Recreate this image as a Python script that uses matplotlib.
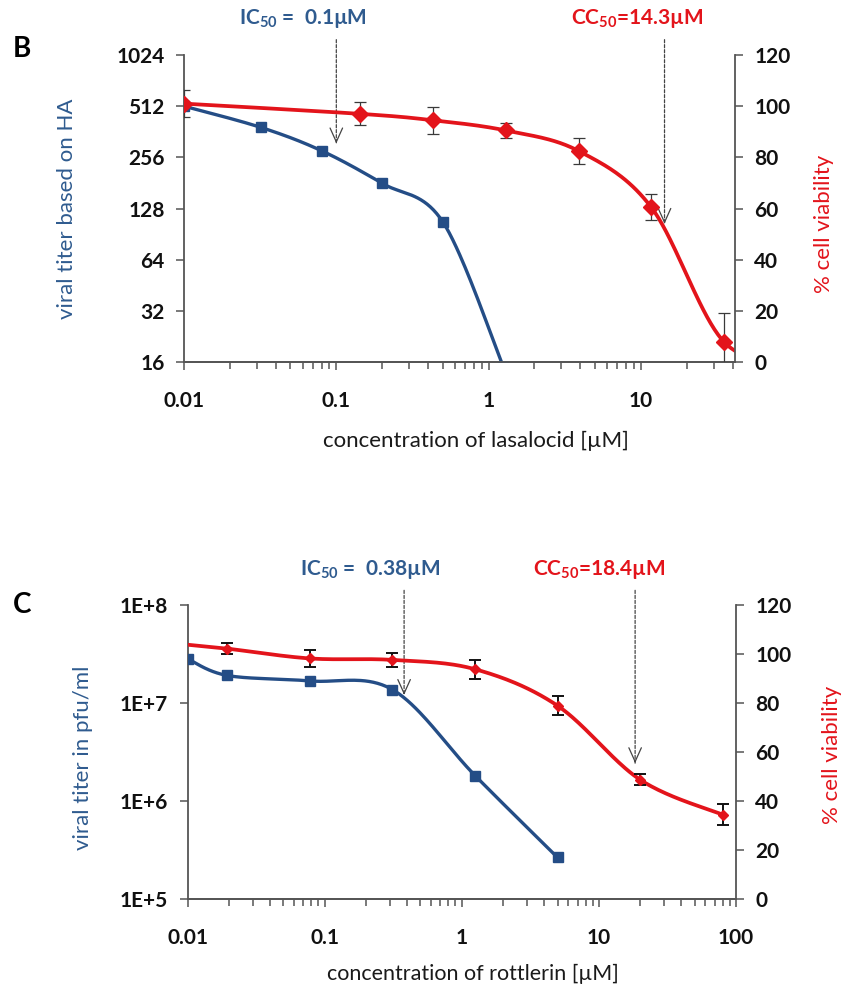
import numpy as np
import matplotlib
matplotlib.use('Agg')
import matplotlib.pyplot as plt
from matplotlib.ticker import FixedLocator, NullFormatter

plt.rcParams['font.family'] = ['Lato', 'DejaVu Sans']
plt.rcParams['mathtext.fontset'] = 'custom'
plt.rcParams['mathtext.rm'] = 'Lato'
plt.rcParams['mathtext.bf'] = 'Lato:bold'
plt.rcParams['mathtext.default'] = 'regular'

BLUE = '#244D86'
BLUE_TEXT = '#2F5B8F'
RED = '#E3141B'
AXIS = '#555555'
ARROW = '#444444'

# Panel B: lasalocid
las_virus_conc = [0.01, 0.032, 0.08, 0.2, 0.5, 1.25]
las_virus_titer = [512, 384, 280, 180, 107, 15]
las_cell_conc = [0.01, 0.144, 0.43, 1.3, 3.9, 11.7, 35, 105]
las_cell_viab = [101, 97, 94.5, 90.5, 82.5, 60.5, 8, 0]
las_cell_err = [5.4, 4.5, 5.2, 2.9, 5.0, 5.0, 11.0, 0]
las_ic50 = 0.1
las_cc50 = 14.3

# Panel C: rottlerin
rot_virus_conc = [0.01, 0.0195, 0.078, 0.3125, 1.25, 5]
rot_virus_titer = [2.83e7, 1.91e7, 1.68e7, 1.37e7, 1.82e6, 2.65e5]
rot_cell_conc = [0.01, 0.0195, 0.078, 0.3125, 1.25, 5, 20, 80]
rot_cell_viab = [103.8, 102.2, 98.2, 97.6, 93.8, 78.9, 48.7, 34.4]
rot_cell_err = [0, 2.2, 3.4, 2.9, 3.9, 3.8, 2.2, 4.2]
rot_ic50 = 0.38
rot_cc50 = 18.4

las_xticks = [0.01, 0.1, 1, 10]
las_xticklabels = ['0.01', '0.1', '1', '10']
rot_xticks = [0.01, 0.1, 1, 10, 100]
rot_xticklabels = ['0.01', '0.1', '1', '10', '100']
las_yticks = [16, 32, 64, 128, 256, 512, 1024]
las_yticklabels = ['16', '32', '64', '128', '256', '512', '1024']
rot_yticks = [1e5, 1e6, 1e7, 1e8]
rot_yticklabels = ['1E+5', '1E+6', '1E+7', '1E+8']
viab_ticks = [0, 20, 40, 60, 80, 100, 120]


def smooth_curve(ax, x, y, n=40):
    # Bezier smoothing through the points (Catmull-Rom) in screen space
    pts = ax.transData.transform(np.column_stack([x, y]))
    P = np.vstack([pts[0], pts, pts[-1]])
    t = np.linspace(0, 1, n)[:, None]
    segs = []
    for i in range(1, len(P) - 2):
        p0, p1, p2, p3 = P[i - 1], P[i], P[i + 1], P[i + 2]
        b1 = p1 + (p2 - p0) / 6
        b2 = p2 - (p3 - p1) / 6
        segs.append((1 - t)**3 * p1 + 3 * (1 - t)**2 * t * b1
                    + 3 * (1 - t) * t**2 * b2 + t**3 * p2)
    curve = ax.transData.inverted().transform(np.vstack(segs))
    return curve[:, 0], curve[:, 1]


def style_axes(ax, ax2, xlim, xticks, xlabels, yticks, ylabels):
    ax.set_xscale('log')
    ax.set_xlim(*xlim)
    ax.xaxis.set_major_locator(FixedLocator(xticks))
    ax.set_xticklabels(xlabels)
    ax.xaxis.set_minor_formatter(NullFormatter())
    ax.set_yticks(yticks)
    ax.set_yticklabels(ylabels)
    ax.yaxis.set_minor_locator(FixedLocator([]))
    ax2.set_ylim(0, 120)
    ax2.set_yticks(viab_ticks)
    ax2.set_yticklabels([str(v) for v in viab_ticks])
    for a in (ax, ax2):
        a.spines['top'].set_visible(False)
        for s in a.spines.values():
            s.set_color(AXIS)
            s.set_linewidth(1.3)
        a.tick_params(which='both', direction='out', length=6, width=1.1,
                      color=AXIS, labelsize=15, pad=8)
    ax.tick_params(axis='x', which='minor', length=5)
    ax.tick_params(axis='x', pad=15)
    ax2.spines['left'].set_visible(False)
    ax.spines['right'].set_visible(False)
    for lab in ax.get_xticklabels() + ax.get_yticklabels() + ax2.get_yticklabels():
        lab.set_fontweight('bold')
        lab.set_color('#111111')


def add_marker(ax, x, tip, start, text, text_x, text_y, color):
    ax.annotate('', xy=(x, tip), xycoords=('data', 'axes fraction'),
                xytext=(x, start), textcoords=('data', 'axes fraction'),
                arrowprops=dict(arrowstyle='-', linestyle=(0, (2.5, 1.5)),
                                color=ARROW, lw=0.9, shrinkA=0, shrinkB=0))
    ax.annotate('', xy=(x, tip), xycoords=('data', 'axes fraction'),
                xytext=(x, tip + 0.01), textcoords=('data', 'axes fraction'),
                arrowprops=dict(arrowstyle='->,head_length=1.0,head_width=0.45',
                                color=ARROW, lw=0.9, shrinkA=0, shrinkB=0,
                                mutation_scale=10))
    ax.text(text_x, text_y, text, transform=ax.transAxes, ha='center',
            va='center', fontsize=15, fontweight='bold', color=color)


fig = plt.figure(figsize=(8.45, 9.93), dpi=100)

# ---- Panel B ----
axB = fig.add_axes([0.2178, 0.6354, 0.6520, 0.3092])
axB.set_yscale('log', base=2)
axB.set_ylim(16, 1024)
axB2 = axB.twinx()
style_axes(axB, axB2, (0.01, 41.5), las_xticks, las_xticklabels,
           las_yticks, las_yticklabels)

xs, ys = smooth_curve(axB, las_virus_conc, las_virus_titer)
axB.plot(xs, ys, color=BLUE, lw=2.4, zorder=3)
axB.plot(las_virus_conc, las_virus_titer, 's', color=BLUE, ms=7.5, zorder=4)

xs, ys = smooth_curve(axB2, las_cell_conc, las_cell_viab)
axB2.plot(xs, ys, color=RED, lw=2.7, zorder=2)
axB2.errorbar(las_cell_conc, las_cell_viab, yerr=las_cell_err, fmt='none',
              ecolor='#3a3a3a', elinewidth=0.9, capsize=4, capthick=0.9, zorder=3)
axB2.plot(las_cell_conc, las_cell_viab, 'D', color=RED, ms=8, zorder=4)

axB.set_xlabel('concentration of lasalocid [µM]', fontsize=16, color='#1a1a1a')
axB.xaxis.set_label_coords(0.53, -0.225)
axB.set_ylabel('viral titer based on HA', fontsize=16, color=BLUE_TEXT)
axB.yaxis.set_label_coords(-0.194, 0.5)
axB2.set_ylabel('% cell viability', fontsize=16, color=RED)
axB2.yaxis.set_label_coords(1.143, 0.45)

add_marker(axB, las_ic50, 0.712, 1.05, r'IC$_{50}$ =  0.1µM', 0.215, 1.12, BLUE_TEXT)
add_marker(axB, las_cc50, 0.45, 1.05, r'CC$_{50}$=14.3µM', 0.822, 1.12, RED)

# ---- Panel C ----
axC = fig.add_axes([0.2219, 0.0947, 0.6490, 0.2960])
axC.set_yscale('log')
axC.set_ylim(1e5, 1e8)
axC2 = axC.twinx()
style_axes(axC, axC2, (0.01, 100), rot_xticks, rot_xticklabels,
           rot_yticks, rot_yticklabels)

xs, ys = smooth_curve(axC, rot_virus_conc, rot_virus_titer)
axC.plot(xs, ys, color=BLUE, lw=2.4, zorder=3)
axC.plot(rot_virus_conc, rot_virus_titer, 's', color=BLUE, ms=7.5, zorder=4)

xs, ys = smooth_curve(axC2, rot_cell_conc, rot_cell_viab)
axC2.plot(xs, ys, color=RED, lw=2.7, zorder=2)
axC2.errorbar(rot_cell_conc[1:], rot_cell_viab[1:], yerr=rot_cell_err[1:], fmt='none',
              ecolor='#111111', elinewidth=1.4, capsize=4, capthick=1.4, zorder=3)
axC2.plot(rot_cell_conc[1:], rot_cell_viab[1:], 'D', color=RED, ms=5.5, zorder=4)

axC.set_xlabel('concentration of rottlerin [µM]', fontsize=15.5, color='#1a1a1a')
axC.xaxis.set_label_coords(0.52, -0.222)
axC.set_ylabel('viral titer in pfu/ml', fontsize=16, color=BLUE_TEXT)
axC.yaxis.set_label_coords(-0.172, 0.48)
axC2.set_ylabel('% cell viability', fontsize=16, color=RED)
axC2.yaxis.set_label_coords(1.157, 0.49)

add_marker(axC, rot_ic50, 0.694, 1.05, r'IC$_{50}$ =  0.38µM', 0.333, 1.12, BLUE_TEXT)
add_marker(axC, rot_cc50, 0.462, 1.05, r'CC$_{50}$=18.4µM', 0.75, 1.12, RED)

fig.text(0.026, 1 - 49 / 993, 'B', fontsize=20, fontweight='bold', va='center', ha='center')
fig.text(0.026, 1 - 605 / 993, 'C', fontsize=20, fontweight='bold', va='center', ha='center')

fig.savefig('out.png', dpi=100, facecolor='white')
